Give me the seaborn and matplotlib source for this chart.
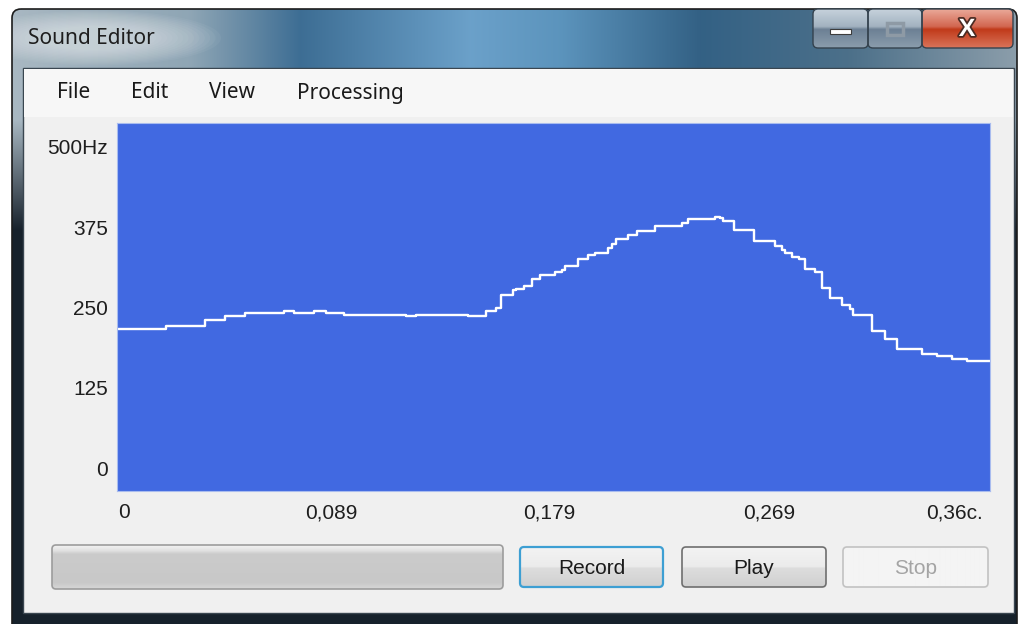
import numpy as np
import seaborn as sns
import matplotlib.pyplot as plt
import matplotlib.colors as mcolors
import matplotlib.patheffects as pe
from matplotlib.patches import FancyBboxPatch, Rectangle, Ellipse
from matplotlib.transforms import ScaledTranslation

sns.set_style("white")
plt.rcParams['font.family'] = ['Liberation Sans', 'DejaVu Sans']

# pitch track: step start time (s) and pitch (Hz)
times = [0.0, 0.0200, 0.0361, 0.0443, 0.0526, 0.0686, 0.0727, 0.0809, 0.0858, 0.0932,
         0.1187, 0.1228, 0.1441, 0.1515, 0.1556, 0.1573, 0.1622, 0.1638, 0.1671, 0.1700,
         0.1733, 0.1798, 0.1823, 0.1839, 0.1889, 0.1930, 0.1959, 0.2012, 0.2028, 0.2045,
         0.2094, 0.2131, 0.2205, 0.2316, 0.2340, 0.2451, 0.2472, 0.2484, 0.2529, 0.2611,
         0.2698, 0.2726, 0.2739, 0.2767, 0.2796, 0.2821, 0.2862, 0.2891, 0.2923, 0.2973,
         0.3006, 0.3018, 0.3096, 0.3149, 0.3199, 0.3301, 0.3363, 0.3424, 0.3486, 0.3580]
pitch = [217, 221, 230, 236, 242, 245, 242, 245, 242, 239,
         236, 239, 236, 245, 249, 270, 277, 279, 283, 295,
         301, 305, 309, 314, 326, 332, 335, 343, 349, 357,
         362, 369, 376, 382, 388, 391, 389, 385, 370, 354,
         345, 340, 334, 329, 326, 310, 305, 280, 265, 254,
         248, 239, 214, 201, 186, 177, 174, 170, 167, 167]

x_ticks = [0, 0.0895, 0.179, 0.2685, 0.358]
x_labels = ['0', '0,089', '0,179', '0,269', '0,36c.']
y_ticks = [0, 125, 250, 375, 500]
y_labels = ['0', '125', '250', '375', '500Hz']

menu_items = ['File', 'Edit', 'View', 'Processing']
menu_x = [57, 131, 209, 297]

W, H = 1018, 624
fig = plt.figure(figsize=(W / 100, H / 100), dpi=100)
fig.patch.set_facecolor('white')

# window chrome, drawn in pixel coordinates --------------------------------------------
bg = fig.add_axes([0, 0, 1, 1])
bg.axis('off')


def box(x0, y0, x1, y1, r=0, z=1, **kw):
    p = FancyBboxPatch((x0, y0), x1 - x0, y1 - y0,
                       boxstyle=f"round,pad=0,rounding_size={r}", zorder=z, **kw)
    bg.add_patch(p)
    return p


def vgrad(p, x0, y0, x1, y1, stops, z):
    ys = np.linspace(0, 1, 80)
    pos = [s[0] for s in stops]
    cols = np.array([mcolors.to_rgb(s[1]) for s in stops])
    img = np.stack([np.interp(ys, pos, cols[:, k]) for k in range(3)], axis=-1)[:, None, :]
    im = bg.imshow(img, extent=[x0, x1, y1, y0], aspect='auto', zorder=z,
                   interpolation='bilinear')
    im.set_clip_path(p)


# glass frame
frame = box(12, 9, 1017, 640, r=9, z=1, fc='none', ec='#1c1c1c', lw=1.2)
fx = np.arange(12, 1018)
fy = np.arange(9, 625)
hx = [12, 190, 300, 470, 560, 700, 850, 1018]
hc = np.array([[0.66, 0.72, 0.76], [0.56, 0.65, 0.71], [0.24, 0.43, 0.58],
               [0.42, 0.63, 0.79], [0.36, 0.58, 0.74], [0.20, 0.38, 0.52],
               [0.30, 0.44, 0.54], [0.55, 0.62, 0.67]])
row = np.stack([np.interp(fx, hx, hc[:, k]) for k in range(3)], -1)
t = np.clip((fy - 120) / 110, 0, 1)[:, None, None]
dark = np.array([0.09, 0.13, 0.17])
glass = row[None, :, :] * (1 - t) + dark * t
im = bg.imshow(glass, extent=[12, 1018, 625, 9], aspect='auto', zorder=0.5)
im.set_clip_path(frame)
# soft glow behind the caption
for w in np.linspace(250, 110, 14):
    glow = Ellipse((96, 38), w, w * 0.22, fc='white', alpha=0.045, lw=0, zorder=0.7)
    bg.add_patch(glow)
    glow.set_clip_path(frame)

bg.text(28, 39, 'Sound Editor', fontsize=15, color='#1e1e1e', va='center',
        family=['Noto Sans', 'DejaVu Sans'], zorder=3)

# caption buttons
for x0, x1, stops in [(813, 868, [(0, '#c6d2dc'), (0.45, '#a2b2c0'), (0.52, '#6c8094'), (1, '#8b9dad')]),
                      (868, 922, [(0, '#c6d2dc'), (0.45, '#a2b2c0'), (0.52, '#6c8094'), (1, '#8b9dad')]),
                      (922, 1013, [(0, '#eaa999'), (0.45, '#d26650'), (0.52, '#c13a1a'), (1, '#d9745a')])]:
    b = box(x0, 9, x1, 48, r=5, z=2, fc='none', ec='#34424e', lw=1)
    vgrad(b, x0, 9, x1, 48, stops, 1.9)
bg.add_patch(Rectangle((830, 29), 21, 5, fc='white', ec='#3c3c3c', lw=0.8, zorder=3))
bg.add_patch(Rectangle((887, 23), 16, 12, fc='none', ec='#8e9aa5', lw=2.5, zorder=3))
bg.text(967, 29, 'X', fontsize=18, fontweight='bold', color='white', ha='center', va='center',
        zorder=3, path_effects=[pe.withStroke(linewidth=2.5, foreground='#4a2a22')])

# client area and menu bar
bg.add_patch(Rectangle((23, 68), 991, 545, fc='#f0f0f0', ec='#3a4650', lw=1, zorder=2))
bg.add_patch(Rectangle((24, 69), 989, 48, fc='#f7f7f7', lw=0, zorder=2.1))
for label, mx in zip(menu_items, menu_x):
    bg.text(mx, 93, label, fontsize=15, color='#1a1a1a', va='center',
            family=['Noto Sans', 'DejaVu Sans'], zorder=3)

# progress bar and buttons
pb = box(52, 545, 503, 589, r=4, z=3, fc='none', ec='#9c9c9c', lw=1.2)
vgrad(pb, 52, 545, 503, 589, [(0, '#f2f2f2'), (0.12, '#e2e2e2'), (0.2, '#cbcbcb'),
                              (0.85, '#c8c8c8'), (1, '#d6d6d6')], 2.9)
buttons = [('Record', 520, 663, '#3d9fd3', '#1a1a1a', 1.6),
           ('Play', 682, 826, '#6f6f6f', '#1a1a1a', 1.2),
           ('Stop', 843, 988, '#c2c2c2', '#a4a4a4', 1.2)]
for text, x0, x1, ec, tc, lw in buttons:
    b = box(x0, 547, x1, 587, r=4, z=3, fc='none', ec=ec, lw=lw)
    if text == 'Stop':
        stops = [(0, '#f4f4f4'), (1, '#f4f4f4')]
    else:
        stops = [(0, '#f3f3f3'), (0.5, '#ebebeb'), (0.52, '#dddddd'), (1, '#d0d0d0')]
    vgrad(b, x0, 547, x1, 587, stops, 2.9)
    bg.text((x0 + x1) / 2, 568, text, fontsize=15, color=tc, ha='center', va='center', zorder=4)

bg.set_xlim(0, W)
bg.set_ylim(H, 0)

# pitch plot ---------------------------------------------------------------------------
ax = fig.add_axes([117 / W, 1 - 490.7 / H, (990 - 117) / W, (490.7 - 123) / H])
ax.set_facecolor('#4169e1')
sns.lineplot(x=times, y=pitch, drawstyle='steps-post', color='white', lw=1.7, ax=ax)
ax.set_xlim(0, 0.358)
ax.set_ylim(-35, 537)
for s in ax.spines.values():
    s.set_color('#a9bcef')
    s.set_linewidth(0.8)

ax.set_xticks(x_ticks)
ax.set_xticklabels(x_labels)
ax.set_yticks(y_ticks)
ax.set_yticklabels(y_labels)
ax.tick_params(axis='both', length=0, labelsize=15, labelcolor='#1e1e1e')
ax.tick_params(axis='x', pad=9)
ax.tick_params(axis='y', pad=6.5)
shifts = [1, -4, -4, -3, -7]
aligns = ['left', 'center', 'center', 'center', 'right']
for lbl, dx, ha in zip(ax.get_xticklabels(), shifts, aligns):
    lbl.set_ha(ha)
    lbl.set_transform(lbl.get_transform() + ScaledTranslation(dx / 100, 0, fig.dpi_scale_trans))
ax.grid(False)
ax.set_xlabel('')
ax.set_ylabel('')

fig.savefig('out.png', dpi=100, facecolor=fig.get_facecolor())
